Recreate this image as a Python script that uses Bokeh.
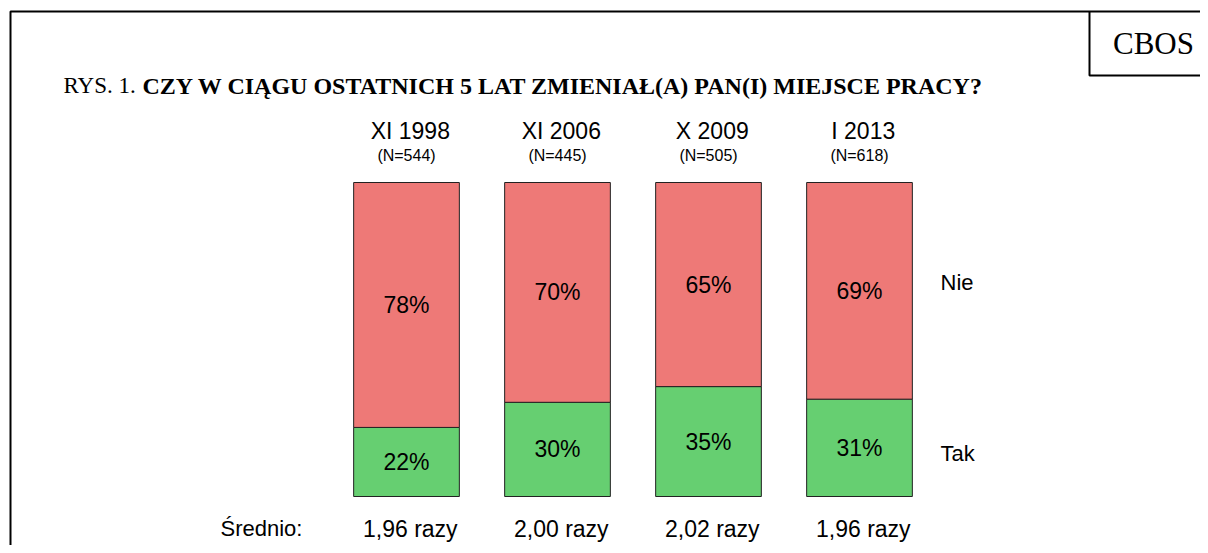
from bokeh.plotting import figure
from bokeh.models import ColumnDataSource, Range1d, Label
from bokeh.core.properties import value
from bokeh.embed import file_html
from bokeh.resources import INLINE

# ---- data ----
waves = ["XI 1998", "XI 2006", "X 2009", "I 2013"]
sizes = ["(N=544)", "(N=445)", "(N=505)", "(N=618)"]
tak = [22, 30, 35, 31]
nie = [78, 70, 65, 69]
srednio = ["1,96 razy", "2,00 razy", "2,02 razy", "1,96 razy"]
title_prefix = "RYS. 1. "
title_main = "CZY W CIĄGU OSTATNICH 5 LAT ZMIENIAŁ(A) PAN(I) MIEJSCE PRACY?"

RED = "#EE7977"
GREEN = "#66CF71"
SANS = "Liberation Sans"
SERIF = "Liberation Serif"

W, H = 1200, 545
BAR0, STEP = 406, 151        # page px of first bar centre, spacing
TOP_PX, PX_PER = 182, 3.14   # page px of 100%, px per percent point

p = figure(width=W, height=H, output_backend="svg", toolbar_location=None,
           x_range=Range1d(-BAR0 / STEP, (W - BAR0) / STEP),
           y_range=Range1d(100 - (H - TOP_PX) / PX_PER, 100 + TOP_PX / PX_PER),
           min_border=0, outline_line_color=None)
p.xaxis.visible = False
p.yaxis.visible = False
p.grid.visible = False
p.background_fill_color = "white"
p.border_fill_color = "white"

# helpers converting page pixel positions to data coords (decorations only)
def X(ix):
    return (ix - BAR0) / STEP

def Y(iy):
    return 100 - (iy - TOP_PX) / PX_PER

xs = list(range(len(waves)))
src = ColumnDataSource(dict(
    x=xs, tak=tak, nie=nie, waves=waves, sizes=sizes, srednio=srednio,
    tak_mid=[t / 2 for t in tak],
    nie_mid=[t + n / 2 for t, n in zip(tak, nie)],
    tak_lbl=[f"{t}%" for t in tak],
    nie_lbl=[f"{n}%" for n in nie],
    xl=[x + 0.025 for x in xs],
    top_y=[Y(130)] * 4, n_y=[Y(155)] * 4, sr_y=[Y(528)] * 4,
))

p.vbar_stack(["tak", "nie"], x="x", width=0.70, source=src,
              fill_color=[GREEN, RED], line_color="#222222", line_width=1)

common = dict(text_align="center", text_baseline="middle", text_color="black",
              text_font=value(SANS))
p.text(x="x", y="tak_mid", text="tak_lbl", source=src, text_font_size="23px", **common)
p.text(x="x", y="nie_mid", text="nie_lbl", source=src, text_font_size="23px", **common)
p.text(x="xl", y="top_y", text="waves", source=src, text_font_size="23px", **common)
p.text(x="x", y="n_y", text="sizes", source=src, text_font_size="16px", **common)
p.text(x="xl", y="sr_y", text="srednio", source=src, text_font_size="23px", **common)

for txt, iy in (("Nie", 282), ("Tak", 453)):
    p.add_layout(Label(x=X(940), y=Y(iy), text=txt, text_font=SANS, text_font_size="22px",
                       text_color="black", text_baseline="middle", text_align="left"))
p.add_layout(Label(x=X(220), y=Y(528), text="Średnio:", text_font=SANS, text_font_size="22px",
                   text_color="black", text_baseline="middle", text_align="left"))

# title
p.add_layout(Label(x=X(63), y=Y(85), text=title_prefix, text_font=SERIF, text_font_size="23px",
                   text_color="black", text_baseline="middle", text_align="left"))
p.add_layout(Label(x=X(142), y=Y(85), text=title_main, text_font=SERIF, text_font_size="24px",
                   text_color="black", text_font_style="bold", text_baseline="middle",
                   text_align="left"))

# outer frame and CBOS box
p.line(x=[X(10), X(10), X(1300)], y=[Y(600), Y(11), Y(11)], line_color="black", line_width=2)
p.line(x=[X(1300), X(1089), X(1089)], y=[Y(75), Y(75), Y(11)], line_color="black", line_width=2)
p.add_layout(Label(x=X(1153), y=Y(43), text="CBOS", text_font=SERIF, text_font_size="31px",
                   text_color="black", text_baseline="middle", text_align="center"))

open("out.html", "w").write(file_html(p, INLINE))
